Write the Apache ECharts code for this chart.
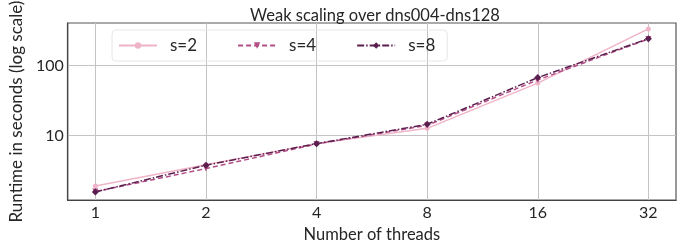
<!DOCTYPE html>
<html>
<head>
<meta charset="utf-8">
<script src="https://cdn.jsdelivr.net/npm/echarts@6/dist/echarts.min.js"></script>
<style>
  html, body { margin: 0; padding: 0; background: #fff; }
  #chart { width: 694px; height: 248px; }
</style>
</head>
<body>
<div id="chart"></div>
<script>
  // threads on x (log2), runtime on y (log10)
  const threads = [1, 2, 4, 8, 16, 32];
  const s2 = [1.92, 3.85, 7.7, 12.7, 56, 330];
  const s4 = [1.6, 3.4, 7.6, 14.0, 62, 238];
  const s8 = [1.58, 3.8, 7.7, 14.5, 67, 240];
  const yTicks = [10, 100];

  const font = 'Lato';
  const toPts = arr => arr.map((v, i) => [Math.log2(threads[i]), v]);

  const chart = echarts.init(document.getElementById('chart'));

  const option = {
    animation: false,
    textStyle: { fontFamily: font },
    title: {
      text: 'Weak scaling over dns004-dns128',
      left: 370,
      textAlign: 'center',
      top: 2,
      textStyle: { fontFamily: font, fontWeight: 'normal', fontSize: 16.5, color: '#262626' },
    },
    legend: {
      left: 112,
      top: 30,
      itemWidth: 38,
      itemHeight: 8,
      itemGap: 40,
      padding: [7, 12, 7, 6],
      borderColor: '#e6e6e6',
      borderWidth: 1,
      borderRadius: 4,
      textStyle: { fontFamily: font, fontSize: 17, color: '#262626', padding: [0, 0, 0, 8] },
    },
    grid: { left: 64, right: 18, top: 23, bottom: 41, show: true, borderColor: '#555', borderWidth: 1.2 },
    xAxis: {
      type: 'value',
      min: -0.25,
      max: 5.25,
      name: 'Number of threads',
      nameLocation: 'middle',
      nameGap: 22,
      nameTextStyle: { fontFamily: font, fontSize: 16.5, color: '#262626' },
      axisLine: { show: true, onZero: false, lineStyle: { color: '#444', width: 1.2 } },
      axisTick: { show: false, customValues: [0, 1, 2, 3, 4, 5] },
      axisLabel: {
        customValues: [0, 1, 2, 3, 4, 5],
        formatter: v => String(Math.round(Math.pow(2, v))),
        fontFamily: font, fontSize: 16, color: '#262626', margin: 5,
      },
      splitLine: { show: true, lineStyle: { color: '#c4c4c4', width: 1 } },
    },
    yAxis: {
      type: 'log',
      logBase: 10,
      min: 1.21,
      max: 401,
      name: 'Runtime in seconds (log scale)',
      nameLocation: 'middle',
      nameGap: 42,
      nameTextStyle: { fontFamily: font, fontSize: 17, color: '#262626' },
      axisLine: { show: true, onZero: false, lineStyle: { color: '#444', width: 1.2 } },
      axisTick: { show: false, customValues: yTicks },
      axisLabel: { customValues: yTicks, fontFamily: font, fontSize: 16, color: '#262626', margin: 4 },
      splitLine: { show: true, lineStyle: { color: '#c4c4c4', width: 1 } },
    },
    series: [
      {
        name: 's=2', type: 'line', data: toPts(s2),
        symbol: 'circle', symbolSize: 5,
        itemStyle: { color: '#efb4c8' },
        lineStyle: { color: '#efb4c8', width: 1.5 },
      },
      {
        name: 's=4', type: 'line', data: toPts(s4),
        symbol: 'triangle', symbolRotate: 180, symbolSize: 6,
        itemStyle: { color: '#b34f86' },
        lineStyle: { color: '#b34f86', width: 1.5, type: [5, 3] },
      },
      {
        name: 's=8', type: 'line', data: toPts(s8),
        symbol: 'diamond', symbolSize: 7,
        itemStyle: { color: '#5a1e4f' },
        lineStyle: { color: '#5a1e4f', width: 1.5, type: [7, 2, 1.5, 2] },
      },
    ],
  };

  chart.setOption(option);
</script>
</body>
</html>
